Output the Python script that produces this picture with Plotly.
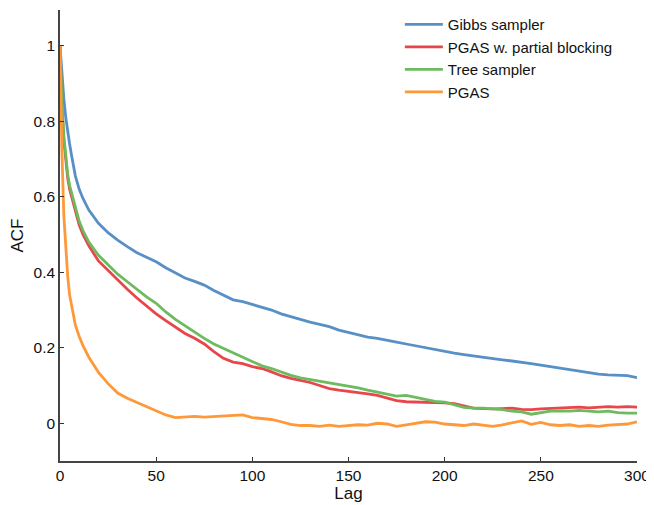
import plotly.graph_objects as go

lags = [0, 1, 2, 3, 4, 5, 6, 8, 10, 12, 15, 20, 25, 30, 35, 40, 45, 50, 55, 60, 65, 70, 75, 80, 85, 90, 95,
        100, 105, 110, 115, 120, 125, 130, 135, 140, 145, 150, 155, 160, 165, 170, 175, 180, 185, 190, 195,
        200, 205, 210, 215, 220, 225, 230, 235, 240, 245, 250, 255, 260, 265, 270, 275, 280, 285, 290, 295, 300]

gibbs = [1.0, 0.92, 0.86, 0.81, 0.77, 0.74, 0.71, 0.655, 0.62, 0.595, 0.565, 0.53, 0.505, 0.485, 0.468, 0.452,
         0.44, 0.428, 0.412, 0.398, 0.385, 0.376, 0.366, 0.352, 0.340, 0.327, 0.322, 0.315, 0.308, 0.300, 0.290,
         0.282, 0.275, 0.268, 0.262, 0.256, 0.247, 0.240, 0.234, 0.228, 0.225, 0.219, 0.215, 0.210, 0.205, 0.200,
         0.195, 0.190, 0.186, 0.182, 0.178, 0.175, 0.172, 0.168, 0.165, 0.162, 0.158, 0.154, 0.150, 0.146, 0.142,
         0.138, 0.134, 0.130, 0.128, 0.127, 0.126, 0.121]

pgas_pb = [1.0, 0.84, 0.75, 0.69, 0.65, 0.62, 0.60, 0.56, 0.525, 0.50, 0.47, 0.43, 0.405, 0.378, 0.355, 0.332,
           0.31, 0.29, 0.272, 0.255, 0.238, 0.225, 0.21, 0.19, 0.172, 0.162, 0.158, 0.150, 0.145, 0.136, 0.126,
           0.119, 0.114, 0.108, 0.100, 0.092, 0.088, 0.085, 0.082, 0.078, 0.074, 0.066, 0.060, 0.057, 0.056, 0.055,
           0.056, 0.054, 0.052, 0.045, 0.040, 0.039, 0.038, 0.039, 0.040, 0.037, 0.036, 0.038, 0.039, 0.040, 0.042,
           0.043, 0.041, 0.042, 0.044, 0.043, 0.044, 0.043]

tree = [1.0, 0.85, 0.76, 0.70, 0.66, 0.63, 0.61, 0.57, 0.535, 0.51, 0.48, 0.445, 0.42, 0.395, 0.375, 0.355,
        0.335, 0.318, 0.295, 0.275, 0.258, 0.24, 0.225, 0.21, 0.198, 0.188, 0.175, 0.162, 0.152, 0.145, 0.135,
        0.127, 0.120, 0.116, 0.112, 0.108, 0.102, 0.098, 0.094, 0.088, 0.082, 0.078, 0.072, 0.074, 0.068, 0.062,
        0.058, 0.056, 0.050, 0.042, 0.040, 0.040, 0.038, 0.036, 0.032, 0.030, 0.024, 0.028, 0.032, 0.033, 0.032,
        0.034, 0.031, 0.030, 0.032, 0.028, 0.027, 0.027]

pgas = [1.0, 0.72, 0.55, 0.46, 0.39, 0.34, 0.31, 0.26, 0.23, 0.205, 0.175, 0.135, 0.105, 0.08, 0.066, 0.055,
        0.042, 0.032, 0.022, 0.015, 0.016, 0.018, 0.016, 0.018, 0.020, 0.020, 0.022, 0.015, 0.012, 0.010, 0.004,
        -0.003, -0.006, -0.006, -0.008, -0.005, -0.008, -0.006, -0.004, -0.005, 0.0, -0.002, -0.008, -0.004, 0.0,
        0.004, 0.003, -0.002, -0.004, -0.006, -0.002, -0.004, -0.008, -0.004, 0.002, 0.006, -0.003, 0.002, -0.004,
        -0.006, -0.004, -0.008, -0.006, -0.008, -0.005, -0.004, -0.002, 0.004]

names = ["Gibbs sampler", "PGAS w. partial blocking", "Tree sampler", "PGAS"]
series = [gibbs, pgas_pb, tree, pgas]
colors = ["#5890c6", "#e8464b", "#6cbb5f", "#fe993a"]

x_ticks = [0, 50, 100, 150, 200, 250, 300]
y_ticks = [0, 0.2, 0.4, 0.6, 0.8, 1]
y_tick_text = ["0", "0.2", "0.4", "0.6", "0.8", "1"]

fig = go.Figure()
for name, ys, c in zip(names, series, colors):
    fig.add_trace(go.Scatter(x=lags, y=ys, mode="lines", name=name,
                             line=dict(color=c, width=2.8)))

font_family = "Liberation Sans, Arial, Helvetica, sans-serif"
fig.update_layout(
    width=646, height=497,
    margin=dict(l=52, r=17, t=0, b=44),
    plot_bgcolor="white", paper_bgcolor="white",
    font=dict(family=font_family, size=15, color="#111111"),
    showlegend=True,
    legend=dict(x=0.589, y=1.004, xanchor="left", yanchor="top",
                bgcolor="rgba(0,0,0,0)", font=dict(size=15, color="#111111"),
                tracegroupgap=0, itemwidth=38),
    xaxis=dict(range=[0, 300], tickvals=x_ticks, ticks="inside", ticklen=4, tickwidth=1,
               tickcolor="#333333", showline=True, linecolor="#444444", linewidth=1.5,
               showgrid=False, zeroline=False, mirror=False, automargin=False,
               title=dict(text="Lag", font=dict(size=17), standoff=0),
               tickfont=dict(size=15.5)),
    yaxis=dict(range=[-0.1, 1.095], tickvals=y_ticks, ticktext=y_tick_text, ticks="inside", ticklen=4,
               tickwidth=1, tickcolor="#333333", showline=True, linecolor="#444444", linewidth=1.5,
               showgrid=False, zeroline=False, mirror=False, automargin=False,
               title=dict(text="ACF", font=dict(size=17), standoff=8),
               tickfont=dict(size=15.5)),
)

fig.write_html("out.html")
